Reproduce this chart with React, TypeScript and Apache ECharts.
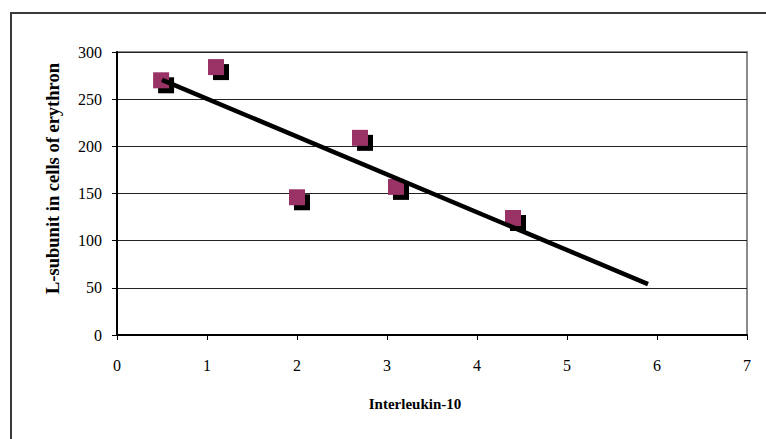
import React, { useEffect, useRef } from "react";
import * as echarts from "echarts";

const xValues = [0.49, 1.1, 2.0, 2.7, 3.1, 4.4];
const yValues = [270, 284, 146, 209, 157, 124];
const trendX = [0.5, 5.9];
const trendY = [270.5, 54];
const xTitle = "Interleukin-10";
const yTitle = "L-subunit in cells of erythron";

const FONT = "Liberation Serif";

export default function App() {
  const ref = useRef<HTMLDivElement>(null);
  useEffect(() => {
    if (!ref.current) return;
    const chart = echarts.init(ref.current, undefined, { renderer: "svg" });
    const pts = xValues.map((x, i) => [x, yValues[i]]);
    const trend = trendX.map((x, i) => [x, trendY[i]]);
    chart.setOption({
      animation: false,
      backgroundColor: "#ffffff",
      grid: {
        left: 117,
        right: 19,
        top: 52,
        bottom: 104,
        show: true,
        borderColor: "#8a8a8a",
        borderWidth: 2,
        backgroundColor: "transparent",
      },
      graphic: [
        {
          type: "rect",
          shape: { x: 11, y: 13, width: 900, height: 600 },
          style: { fill: "none", stroke: "#3a3a3a", lineWidth: 2 },
          silent: true,
        },
      ],
      xAxis: {
        type: "value",
        min: 0,
        max: 7,
        interval: 1,
        name: xTitle,
        nameLocation: "middle",
        nameGap: 61,
        nameTextStyle: {
          fontFamily: FONT,
          fontWeight: "bold",
          fontSize: 15,
          color: "#000",
          padding: [0, 34, 0, 0],
        },
        axisLine: { show: true, lineStyle: { color: "#000", width: 2 } },
        axisTick: { show: true, length: 5, lineStyle: { color: "#000" } },
        axisLabel: { fontFamily: FONT, fontSize: 16, color: "#000", margin: 22 },
        splitLine: { show: false },
      },
      yAxis: {
        type: "value",
        min: 0,
        max: 300,
        interval: 50,
        name: yTitle,
        nameLocation: "middle",
        nameGap: 55,
        nameTextStyle: {
          fontFamily: FONT,
          fontWeight: "bold",
          fontSize: 18.5,
          color: "#000",
          padding: [0, 0, 0, 30],
        },
        axisLine: { show: true, lineStyle: { color: "#000", width: 2 } },
        axisTick: { show: true, length: 5, lineStyle: { color: "#000" } },
        axisLabel: { fontFamily: FONT, fontSize: 16, color: "#000", margin: 15 },
        splitLine: { show: true, lineStyle: { color: "#222", width: 1 } },
      },
      series: [
        {
          type: "scatter",
          data: pts,
          symbol: "rect",
          symbolSize: 16,
          symbolOffset: [5, 5],
          itemStyle: { color: "#000", opacity: 1 },
          z: 2,
          silent: true,
        },
        {
          type: "scatter",
          data: pts,
          symbol: "rect",
          symbolSize: 16,
          itemStyle: { color: "#993366", opacity: 1 },
          z: 3,
          silent: true,
        },
        {
          type: "line",
          data: trend,
          showSymbol: false,
          symbol: "none",
          lineStyle: { color: "#000", width: 4.5 },
          z: 4,
          silent: true,
        },
      ],
    });
    return () => chart.dispose();
  }, []);
  return <div ref={ref} style={{ width: 766, height: 439, position: "absolute", left: 0, top: 0 }} />;
}
